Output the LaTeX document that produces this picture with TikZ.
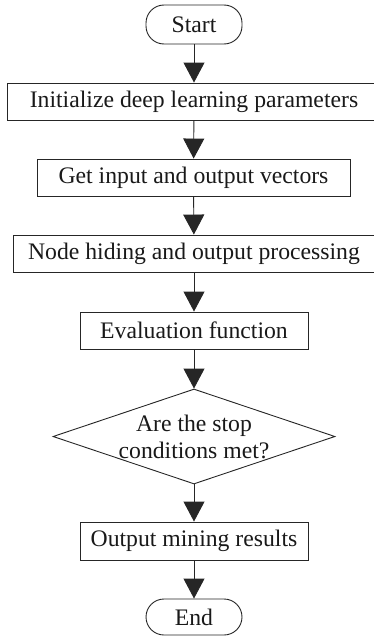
\documentclass[tikz,border=0pt]{standalone}
\usepackage{fontspec}
\setmainfont{Liberation Serif}
\usetikzlibrary{shapes.geometric,arrows.meta}
\begin{document}
\begin{tikzpicture}[x=1pt,y=-1pt,
  every node/.style={font=\fontsize{23.7}{27}\selectfont, text=black!90},
  line/.style={draw=black!85, line width=0.9pt},
  procbox/.style={line, rectangle, inner sep=0pt, minimum height=37pt},
  termbox/.style={line, rectangle, rounded corners=18pt, inner sep=0pt, minimum width=96pt},
  decbox/.style={line, diamond, inner sep=0pt, minimum width=282pt, minimum height=95pt},
  arr/.style={line, -{Triangle[width=21pt,length=20pt]}}]
\useasboundingbox (0,0) rectangle (374,637);
\clip (0,0) rectangle (374,637);
\node[termbox, minimum height=39pt] (start) at (194,24.5) {Start};
\node[procbox, minimum width=374pt] (init) at (194,101.5) {Initialize deep learning parameters};
\node[procbox, minimum width=313pt] (get) at (193.5,177.5) {Get input and output vectors};
\node[procbox, minimum width=362pt] (hide) at (194,253.5) {Node hiding and output processing};
\node[procbox, minimum width=228pt] (eval) at (194,330.5) {Evaluation function};
\node[decbox] (dec) at (194,436.5) {};
\node[align=center, inner sep=0pt] (dectext) at (194,437) {Are the stop\\conditions met?};
\node[procbox, minimum width=228pt, minimum height=38pt] (out) at (194,541) {Output mining results};
\node[termbox, minimum height=36pt] (end) at (194,617) {End};
\draw[arr] (start) -- (init);
\draw[arr] (init) -- (get);
\draw[arr] (get) -- (hide);
\draw[arr] (hide) -- (eval);
\draw[arr] (eval) -- (dec);
\draw[arr] (dec) -- (out);
\draw[arr] (out) -- (end);
\end{tikzpicture}
\end{document}
